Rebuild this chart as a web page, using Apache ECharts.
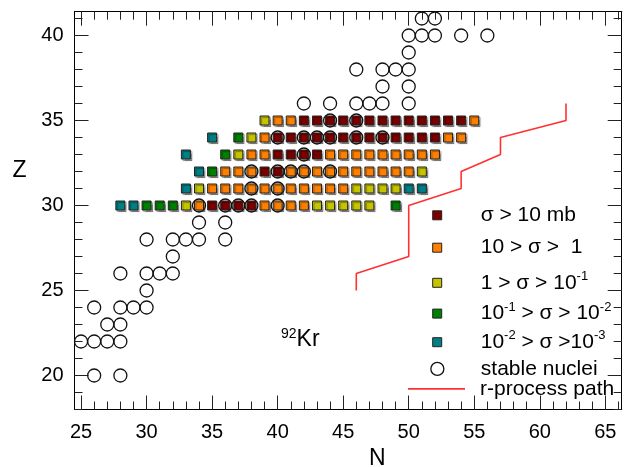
<!DOCTYPE html>
<html>
<head>
<meta charset="utf-8">
<script src="https://cdn.jsdelivr.net/npm/echarts@6/dist/echarts.min.js"></script>
<style>
  html, body { margin: 0; padding: 0; background: #fff; }
  #chart { width: 625px; height: 467px; }
</style>
</head>
<body>
<div id="chart"></div>
<script>
// tick labels
const nTicks = [25, 30, 35, 40, 45, 50, 55, 60, 65];
const zTicks = [20, 25, 30, 35, 40];

// nuclei [N, Z] by cross section class
const sigmaOver10 = [
    [35, 30], [36, 30], [37, 30], [38, 30],
    [39, 32], [40, 32],
    [40, 33], [41, 33], [42, 33], [43, 33],
    [40, 34], [41, 34], [42, 34], [43, 34], [44, 34], [45, 34], [46, 34], [47, 34], [48, 34], [49, 34], [50, 34], [51, 34], [52, 34],
    [42, 35], [43, 35], [44, 35], [45, 35], [46, 35], [47, 35], [48, 35], [49, 35], [50, 35], [51, 35], [52, 35], [53, 35], [54, 35]
];
const sigma10to1 = [
    [34, 30], [39, 30], [40, 30], [41, 30], [42, 30],
    [35, 31], [36, 31], [37, 31], [38, 31], [39, 31], [40, 31], [41, 31], [42, 31], [43, 31], [44, 31], [45, 31],
    [36, 32], [37, 32], [38, 32], [41, 32], [42, 32], [43, 32], [44, 32], [45, 32], [46, 32], [47, 32], [48, 32], [49, 32], [50, 32],
    [38, 33], [39, 33], [44, 33], [45, 33], [46, 33], [47, 33], [48, 33], [49, 33], [50, 33], [51, 33], [52, 33],
    [39, 34], [53, 34], [54, 34],
    [40, 35], [41, 35], [55, 35]
];
const sigma1to01 = [
    [33, 30], [43, 30], [44, 30], [45, 30], [46, 30], [47, 30],
    [34, 31], [46, 31], [47, 31], [48, 31], [49, 31],
    [51, 32], [37, 33], [38, 34], [39, 35]
];
const sigma01to001 = [
    [30, 30], [31, 30], [32, 30], [49, 30],
    [35, 32], [36, 33], [37, 34]
];
const sigma001to0001 = [
    [28, 30], [29, 30],
    [33, 31], [50, 31], [51, 31],
    [34, 32], [33, 33], [35, 34]
];
const stableNuclei = [
    [26, 20], [28, 20],
    [25, 22], [26, 22], [27, 22], [28, 22],
    [27, 23], [28, 23],
    [26, 24], [28, 24], [29, 24], [30, 24],
    [30, 25],
    [28, 26], [30, 26], [31, 26], [32, 26],
    [32, 27],
    [30, 28], [32, 28], [33, 28], [34, 28], [36, 28],
    [34, 29], [36, 29],
    [34, 30], [36, 30], [37, 30], [38, 30], [40, 30],
    [38, 31], [40, 31],
    [38, 32], [40, 32], [41, 32], [42, 32], [44, 32],
    [42, 33],
    [40, 34], [42, 34], [43, 34], [44, 34], [46, 34], [48, 34],
    [44, 35], [46, 35],
    [42, 36], [44, 36], [46, 36], [47, 36], [48, 36], [50, 36],
    [48, 37], [50, 37],
    [46, 38], [48, 38], [49, 38], [50, 38],
    [50, 39],
    [50, 40], [51, 40], [52, 40], [54, 40], [56, 40],
    [51, 41], [52, 41]
];
// r-process path
const rPathN = [46, 46, 50, 50, 54, 54, 57, 57, 62, 62];
const rPathZ = [25, 26, 27, 30, 31, 32, 33, 34, 35, 36];

const font = "'Liberation Sans', Arial, sans-serif";
const xMin = 24.5, xMax = 66.25, yMin = 18, yMax = 41.4;
const pathColor = '#ff3030';

function range(a, b) {
    const out = [];
    for (let i = a; i <= b; i++) out.push(i);
    return out;
}

function frameAxis(kind, position, ticks, len, labels) {
    return {
        type: 'value',
        position: position,
        min: kind === 'x' ? xMin : yMin,
        max: kind === 'x' ? xMax : yMax,
        axisLine: { show: true, onZero: false, lineStyle: { color: '#000', width: 1 } },
        axisTick: { show: true, inside: true, length: len, customValues: ticks, lineStyle: { color: '#222', width: 1 } },
        axisLabel: labels ? {
            show: true, customValues: ticks, fontSize: 20, fontFamily: font, color: '#000',
            margin: kind === 'x' ? 13 : 11
        } : { show: false },
        splitLine: { show: false }
    };
}

const squareStyle = (color) => ({
    color: color,
    opacity: 1,
    borderColor: '#222',
    borderWidth: 1,
    shadowColor: 'rgba(0,0,0,0.35)',
    shadowBlur: 1,
    shadowOffsetX: 1.5,
    shadowOffsetY: 1.5
});

const colors = {
    s1: '#7a0000',
    s2: '#ff8000',
    s3: '#c4c400',
    s4: '#008000',
    s5: '#007f84'
};

const legendText = {
    s1: '{t|σ > 10 mb}',
    s2: '{t|10 > σ >  1}',
    s3: '{t|1 > σ > 10}{s|-1}',
    s4: '{t|10}{s|-1}{t| > σ > 10}{s|-2}',
    s5: '{t|10}{s|-2}{t| > σ >10}{s|-3}',
    stable: '{t|stable nuclei}',
    path: '{t|r-process path}'
};

function legendItem(item, left, centerY, w, h, pad, itemStyle) {
    return {
        data: [item],
        left: left,
        top: centerY - 13,
        padding: 0,
        itemWidth: w,
        itemHeight: h,
        selectedMode: false,
        itemStyle: itemStyle,
        formatter: n => legendText[n],
        textStyle: {
            fontFamily: font,
            fontSize: 21,
            color: '#000',
            padding: [0, 0, 0, pad],
            rich: {
                t: { fontFamily: font, fontSize: 21, lineHeight: 26, color: '#000' },
                s: { fontFamily: font, fontSize: 13, verticalAlign: 'top', color: '#000' }
            }
        }
    };
}

const chart = echarts.init(document.getElementById('chart'));

chart.setOption({
    animation: false,
    backgroundColor: '#fff',
    grid: { left: 74.5, right: 3.3, top: 11.7, bottom: 57.5, containLabel: false, outerBoundsMode: 'none' },
    xAxis: [
        frameAxis('x', 'bottom', nTicks, 14, true),
        frameAxis('x', 'bottom', range(25, 66), 8, false),
        frameAxis('x', 'top', nTicks, 14, false),
        frameAxis('x', 'top', range(25, 66), 8, false)
    ],
    yAxis: [
        frameAxis('y', 'left', zTicks, 14, true),
        frameAxis('y', 'left', range(18, 41), 8, false),
        frameAxis('y', 'right', zTicks, 14, false),
        frameAxis('y', 'right', range(18, 41), 8, false)
    ],
    legend: [
        legendItem('s1', 432.2, 217.8, 9, 9, 34, { borderWidth: 1 }),
        legendItem('s2', 432.2, 250.2, 9, 9, 34, { borderWidth: 1 }),
        legendItem('s3', 432.2, 282.8, 9, 9, 34, { borderWidth: 1 }),
        legendItem('s4', 432.2, 313.6, 9, 9, 34, { borderWidth: 1 }),
        legendItem('s5', 432.2, 342.2, 9, 9, 34, { borderWidth: 1 }),
        legendItem('stable', 430.2, 371.4, 13, 13, 32, { borderWidth: 1.3 }),
        legendItem({ name: 'path', icon: 'rect' }, 408, 391.4, 57, 1.8, 10,
            { color: pathColor, borderWidth: 0, opacity: 1 })
    ],
    graphic: [
        { type: 'text', left: 12.5, top: 159, silent: true,
          style: { text: 'Z', font: '23px ' + font, fill: '#000' } },
        { type: 'text', left: 369, top: 447, silent: true,
          style: { text: 'N', font: '23px ' + font, fill: '#000' } },
        { type: 'text', left: 281, top: 327, silent: true,
          style: {
              text: '{sup|92}{k|Kr}',
              rich: {
                  sup: { fontFamily: font, fontSize: 14, verticalAlign: 'top', fill: '#000' },
                  k: { fontFamily: font, fontSize: 23, lineHeight: 25, fill: '#000' }
              }
          } }
    ],
    series: [
        { name: 's1', type: 'scatter', data: sigmaOver10, symbol: 'rect', symbolSize: 9, itemStyle: squareStyle(colors.s1), silent: true, z: 2 },
        { name: 's2', type: 'scatter', data: sigma10to1, symbol: 'rect', symbolSize: 9, itemStyle: squareStyle(colors.s2), silent: true, z: 2 },
        { name: 's3', type: 'scatter', data: sigma1to01, symbol: 'rect', symbolSize: 9, itemStyle: squareStyle(colors.s3), silent: true, z: 2 },
        { name: 's4', type: 'scatter', data: sigma01to001, symbol: 'rect', symbolSize: 9, itemStyle: squareStyle(colors.s4), silent: true, z: 2 },
        { name: 's5', type: 'scatter', data: sigma001to0001, symbol: 'rect', symbolSize: 9, itemStyle: squareStyle(colors.s5), silent: true, z: 2 },
        {
            name: 'stable', type: 'scatter', data: stableNuclei, symbol: 'circle', symbolSize: 13,
            itemStyle: { color: 'rgba(0,0,0,0)', opacity: 1, borderColor: '#111', borderWidth: 1.3 }, silent: true, z: 3
        },
        {
            name: 'path', type: 'line', data: rPathN.map((n, i) => [n, rPathZ[i]]),
            symbol: 'none', showSymbol: false,
            lineStyle: { color: pathColor, width: 1.6 }, silent: true, z: 4
        }
    ]
});
</script>
</body>
</html>
